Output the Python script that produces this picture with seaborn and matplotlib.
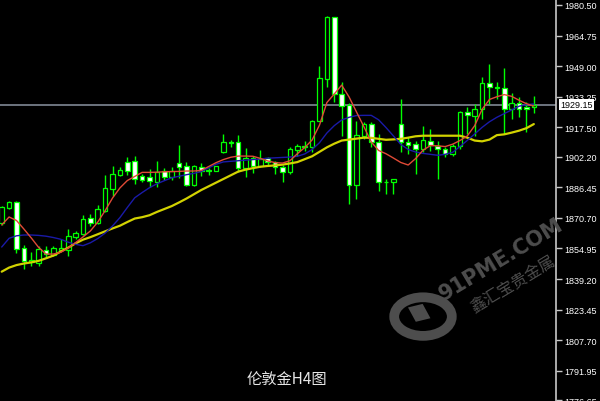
import numpy as np
import pandas as pd
import matplotlib
matplotlib.use("Agg")
import matplotlib.pyplot as plt
import seaborn as sns
from matplotlib.patches import Circle, Rectangle

# H4 candles (oldest -> newest)
opens = [1868.1, 1876.0, 1878.8, 1855.1, 1848.0, 1847.5, 1854.4, 1851.6, 1854.4, 1854.3,
         1860.7, 1862.4, 1870.5, 1868.1, 1874.4, 1885.6, 1893.0, 1899.7, 1900.2, 1892.2,
         1891.7, 1889.1, 1895.1, 1891.7, 1898.9, 1897.3, 1887.7, 1897.1, 1895.6, 1895.1,
         1904.6, 1910.0, 1910.0, 1896.3, 1901.5, 1897.6, 1901.5, 1899.4, 1896.8, 1894.5,
         1905.9, 1908.0, 1907.1, 1920.8, 1942.3, 1974.2, 1934.6, 1928.9, 1887.7, 1913.1,
         1919.1, 1910.0, 1889.4, 1889.1, 1919.1, 1909.7, 1908.8, 1906.3, 1910.5, 1908.0,
         1906.3, 1903.7, 1908.0, 1925.2, 1923.4, 1926.9, 1940.4, 1938.4, 1937.6, 1926.9,
         1929.8, 1928.1, 1927.8]
highs = [1876.8, 1879.6, 1879.4, 1856.8, 1853.2, 1856.4, 1856.4, 1856.1, 1859.9, 1865.0,
         1864.1, 1872.2, 1872.7, 1877.4, 1892.8, 1897.6, 1896.8, 1902.0, 1902.5, 1893.4,
         1896.0, 1900.2, 1896.3, 1896.8, 1908.3, 1899.4, 1898.0, 1899.0, 1896.6, 1897.6,
         1914.0, 1911.0, 1913.5, 1906.6, 1902.8, 1905.9, 1902.0, 1900.2, 1898.0, 1907.1,
         1908.8, 1910.5, 1921.4, 1949.2, 1974.7, 1974.3, 1940.6, 1930.0, 1920.8, 1920.0,
         1920.2, 1914.0, 1890.8, 1891.0, 1932.0, 1912.3, 1910.2, 1918.3, 1916.6, 1910.2,
         1907.4, 1908.8, 1925.7, 1927.8, 1929.5, 1943.2, 1950.1, 1940.6, 1948.0, 1935.0,
         1932.9, 1930.3, 1933.7]
lows = [1867.1, 1875.5, 1852.6, 1844.4, 1845.9, 1846.1, 1849.9, 1851.0, 1853.7, 1850.9,
        1859.9, 1861.8, 1866.8, 1867.6, 1873.9, 1882.2, 1892.5, 1892.9, 1888.2, 1889.1,
        1886.5, 1886.5, 1890.4, 1890.4, 1891.1, 1887.3, 1887.3, 1892.5, 1892.9, 1894.8,
        1904.2, 1907.1, 1894.2, 1891.7, 1893.7, 1896.8, 1897.3, 1893.4, 1889.4, 1893.4,
        1902.8, 1905.4, 1904.6, 1920.7, 1938.1, 1930.3, 1913.1, 1877.9, 1880.5, 1911.4,
        1907.1, 1884.8, 1883.0, 1883.0, 1904.6, 1903.7, 1893.4, 1904.6, 1905.4, 1890.8,
        1902.0, 1902.8, 1906.3, 1914.0, 1913.1, 1921.7, 1929.5, 1932.0, 1914.0, 1921.7,
        1922.6, 1914.9, 1924.7]
closes = [1876.3, 1879.1, 1854.7, 1848.7, 1848.8, 1854.7, 1852.2, 1855.2, 1855.0, 1861.5,
          1863.0, 1870.2, 1868.1, 1875.3, 1886.1, 1893.4, 1895.6, 1895.1, 1890.8, 1890.4,
          1889.6, 1894.6, 1891.7, 1895.1, 1897.1, 1887.7, 1897.3, 1894.8, 1894.9, 1897.3,
          1909.7, 1909.3, 1896.3, 1901.5, 1897.6, 1901.1, 1899.4, 1896.8, 1894.5, 1906.3,
          1907.6, 1907.4, 1920.8, 1942.7, 1974.2, 1934.6, 1928.6, 1887.7, 1913.5, 1919.1,
          1910.0, 1889.1, 1889.1, 1890.8, 1909.7, 1908.5, 1906.3, 1910.9, 1908.3, 1906.3,
          1903.7, 1908.0, 1925.2, 1923.9, 1926.9, 1940.1, 1938.1, 1937.6, 1926.9, 1929.8,
          1926.9, 1926.9, 1929.15]

# moving averages as drawn on the chart (red / blue / yellow)
ma_fast = [1867.1, 1871.2, 1869.4, 1865.0, 1860.4, 1855.5, 1852.1, 1852.1, 1853.0, 1855.2,
           1858.0, 1860.9, 1864.0, 1868.6, 1874.5, 1881.0, 1886.2, 1890.0, 1892.1, 1894.2,
           1894.2, 1894.3, 1894.5, 1894.6, 1894.7, 1894.9, 1894.9, 1895.2, 1897.2, 1899.2,
           1900.8, 1902.0, 1902.6, 1902.6, 1902.5, 1901.4, 1900.1, 1899.2, 1899.0, 1900.2,
           1903.8, 1907.0, 1910.9, 1918.6, 1930.2, 1934.6, 1939.2, 1933.1, 1925.4, 1917.8,
           1909.9, 1905.5, 1903.8, 1901.6, 1899.3, 1898.0, 1901.3, 1905.6, 1908.0, 1907.9,
           1907.5, 1908.7, 1910.6, 1913.0, 1918.3, 1926.7, 1931.8, 1933.2, 1934.3, 1933.4,
           1931.4, 1929.6, 1928.4]
ma_mid = [1855.7, 1860.2, 1861.5, 1861.9, 1861.9, 1861.7, 1861.3, 1860.6, 1859.7, 1858.2,
          1857.1, 1856.4, 1857.9, 1860.1, 1862.9, 1866.6, 1870.9, 1876.1, 1881.1, 1883.8,
          1886.3, 1888.3, 1889.9, 1891.4, 1892.2, 1893.0, 1893.7, 1894.6, 1896.5, 1898.4,
          1899.6, 1899.9, 1900.2, 1900.5, 1900.8, 1901.1, 1901.5, 1901.7, 1901.9, 1902.1,
          1902.5, 1903.7, 1906.0, 1909.5, 1914.5, 1918.3, 1921.2, 1922.6, 1923.5, 1923.6,
          1923.6, 1921.3, 1917.3, 1913.0, 1908.6, 1906.0, 1904.7, 1904.0, 1903.5, 1903.0,
          1903.5, 1904.5, 1907.5, 1910.7, 1914.0, 1917.4, 1920.3, 1922.6, 1924.5, 1926.4,
          1928.3, 1929.1, 1929.5]
ma_slow = [1843.0, 1845.1, 1846.4, 1847.2, 1847.8, 1848.6, 1849.9, 1851.3, 1853.4, 1855.4,
           1857.6, 1859.5, 1860.8, 1862.3, 1863.8, 1865.3, 1866.7, 1868.6, 1870.4, 1871.1,
           1872.1, 1873.8, 1875.3, 1876.8, 1878.7, 1880.7, 1882.9, 1885.1, 1887.0, 1888.9,
           1890.8, 1892.7, 1894.6, 1895.6, 1896.4, 1897.1, 1897.5, 1897.8, 1898.2, 1898.8,
           1899.5, 1901.0, 1902.5, 1904.8, 1907.1, 1909.0, 1910.6, 1911.1, 1911.6, 1912.1,
           1912.0, 1911.5, 1911.0, 1911.2, 1911.5, 1912.1, 1912.8, 1913.1, 1913.1, 1913.1,
           1913.1, 1913.1, 1913.1, 1912.1, 1910.6, 1910.2, 1911.1, 1913.4, 1913.8, 1914.7,
           1915.7, 1917.0, 1919.1]

last_price = 1929.15
price_ticks = [1980.50, 1964.75, 1949.00, 1933.25, 1917.50, 1902.20, 1886.45,
               1870.70, 1854.95, 1839.20, 1823.45, 1807.70, 1791.95, 1776.65]
title = "伦敦金H4图"
watermark_en = "91PME.COM"
watermark_cn = "鑫汇宝贵金属"

GREEN = "#00ff00"

sns.set_style("dark", {"axes.facecolor": "black", "figure.facecolor": "black",
                       "axes.edgecolor": "#c8c8c8", "axes.grid": False})
plt.rcParams["font.family"] = ["Liberation Sans", "Noto Sans CJK SC", "DejaVu Sans"]

df = pd.DataFrame({"open": opens, "high": highs, "low": lows, "close": closes,
                   "fast": ma_fast, "mid": ma_mid, "slow": ma_slow})
df["bar"] = np.arange(len(df))
up = df["close"] >= df["open"]

fig = plt.figure(figsize=(6, 4.02), dpi=100)
fig.patch.set_facecolor("black")
ax = fig.add_axes([0, 0, 556 / 600, 1])
ax.set_facecolor("black")

# watermark behind the chart
wm = "#4d4d4d"
fig.patches.append(Circle((0.705, 0.21), 0.048, transform=fig.transFigure, fill=False,
                          ec=wm, lw=7, zorder=0))
fig.patches.append(Rectangle((0.693, 0.197), 0.026, 0.038, transform=fig.transFigure,
                             fc=wm, ec="none", angle=20, zorder=0))
fig.text(0.835, 0.355, watermark_en, color=wm, fontsize=15, fontweight="bold",
         rotation=31, ha="center", va="center", family="DejaVu Sans", zorder=0)
fig.text(0.855, 0.29, watermark_cn, color=wm, fontsize=11.5, rotation=31,
         ha="center", va="center", family="Noto Sans CJK SC", zorder=0)
ax.patch.set_alpha(0)

ax.axhline(last_price, color="#808894", lw=1.2, zorder=1)

# candles: wicks then bodies (bull hollow/black, bear white)
ax.vlines(df["bar"], df["low"], df["high"], color=GREEN, lw=1, zorder=2)
body_lo = np.minimum(df["open"], df["close"])
body_h = np.maximum((df["close"] - df["open"]).abs(), 0.3)
ax.bar(df["bar"], body_h, bottom=body_lo, width=0.62,
       color=np.where(up, "black", "white"), edgecolor=GREEN, linewidth=0.9, zorder=3)

sns.lineplot(data=df, x="bar", y="slow", color="#d2d200", lw=1.6, ax=ax, zorder=4)
sns.lineplot(data=df, x="bar", y="mid", color="#1a1aa8", lw=1, ax=ax, zorder=4)
sns.lineplot(data=df, x="bar", y="fast", color="#e04a36", lw=1, ax=ax, zorder=5)

ax.set_xlim(-0.23, 75.0)
ax.set_ylim(1776.32, 1983.59)
ax.set_xlabel("")
ax.set_ylabel("")
ax.set_xticks([])
ax.yaxis.tick_right()
ax.set_yticks(price_ticks)
ax.yaxis.set_major_formatter("{x:.2f}")
ax.tick_params(axis="y", direction="out", length=4, width=1, color="#c8c8c8",
               labelcolor="white", labelsize=6.5, pad=2)
for s in ["left", "top", "bottom"]:
    ax.spines[s].set_visible(False)
ax.spines["right"].set_color("#c8c8c8")
ax.spines["right"].set_linewidth(1.2)

ax.annotate(f"{last_price:.2f}", xy=(1.0, last_price), xycoords=("axes fraction", "data"),
            xytext=(3, 0), textcoords="offset points", ha="left", va="center",
            fontsize=6.5, color="black", annotation_clip=False,
            bbox=dict(boxstyle="square,pad=0.15", fc="white", ec="none"), zorder=6)

fig.text(0.478, 0.055, title, color="#e6e6e6", fontsize=11, ha="center", va="center",
         family=["Noto Sans CJK SC", "DejaVu Sans"])

fig.savefig("out.png", dpi=100, facecolor="black")
